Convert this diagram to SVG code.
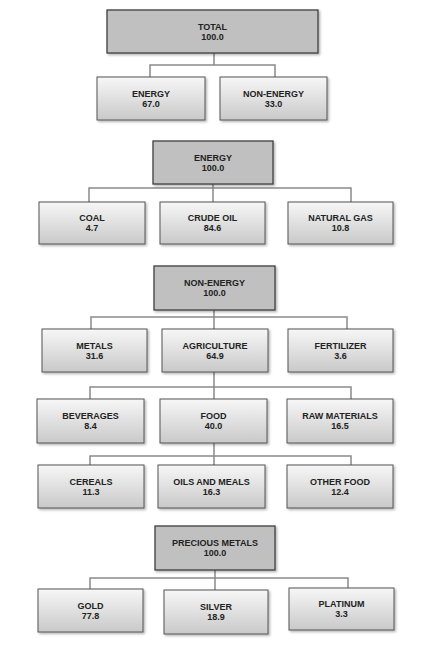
<svg xmlns="http://www.w3.org/2000/svg" width="427" height="646" viewBox="0 0 427 646">
<defs>
<linearGradient id="g" x1="0" y1="0" x2="0" y2="1">
<stop offset="0" stop-color="#f7f7f7"/>
<stop offset="1" stop-color="#c9c9c9"/>
</linearGradient>
<filter id="sh" x="-10%" y="-10%" width="130%" height="140%">
<feDropShadow dx="1.5" dy="1.5" stdDeviation="1" flood-color="#000" flood-opacity="0.3"/>
</filter>
</defs>
<style>
.p{fill:#c0c0c0;stroke:#3f3f3f;stroke-width:1.3;filter:url(#sh)}
.c{fill:url(#g);stroke:#555;stroke-width:1;filter:url(#sh)}
text{font-family:"Liberation Sans",Arial,sans-serif;font-size:9px;font-weight:bold;fill:#222;text-anchor:middle}
.ln{fill:none;stroke:#8a8a8a;stroke-width:1.5}
</style>
<rect width="427" height="646" fill="#fff"/>
<g id="connectors" class="ln">
<path d="M214 53V65M150 77V65H275V77"/>
<path d="M213 184V188M89 202V188H351V202M213 188V202"/>
<path d="M214 310V317M91 329V317H347V329M214 317V329"/>
<path d="M214 372V387M90 399V387H351V399M214 387V399"/>
<path d="M214 443V456M90 465V456H351V465M214 456V465"/>
<path d="M215 570V578M90 589V578H348V588M215 578V590"/>
</g>
<g id="total"><rect class="p" x="107" y="10" width="211" height="43"/><text x="212.5" y="29.5">TOTAL</text><text x="212.5" y="39.5">100.0</text></g>
<g id="energy"><rect class="c" x="97" y="77" width="108" height="43"/><text x="151" y="96.5">ENERGY</text><text x="151" y="106.5">67.0</text></g>
<g id="non-energy"><rect class="c" x="220" y="77" width="107" height="43"/><text x="273.5" y="96.5">NON-ENERGY</text><text x="273.5" y="106.5">33.0</text></g>

<g id="energy-parent"><rect class="p" x="153" y="141" width="120" height="43"/><text x="213" y="160.5">ENERGY</text><text x="213" y="170.5">100.0</text></g>
<g id="coal"><rect class="c" x="39" y="202" width="106" height="42"/><text x="92" y="221">COAL</text><text x="92" y="231">4.7</text></g>
<g id="crude-oil"><rect class="c" x="160" y="202" width="105" height="42"/><text x="212.5" y="221">CRUDE OIL</text><text x="212.5" y="231">84.6</text></g>
<g id="natural-gas"><rect class="c" x="288" y="202" width="105" height="42"/><text x="340.5" y="221">NATURAL GAS</text><text x="340.5" y="231">10.8</text></g>

<g id="non-energy-parent"><rect class="p" x="154" y="266" width="121" height="44"/><text x="214.5" y="286">NON-ENERGY</text><text x="214.5" y="296">100.0</text></g>
<g id="metals"><rect class="c" x="42" y="329" width="105" height="43"/><text x="94.5" y="348.5">METALS</text><text x="94.5" y="358.5">31.6</text></g>
<g id="agriculture"><rect class="c" x="162" y="329" width="106" height="43"/><text x="215" y="348.5">AGRICULTURE</text><text x="215" y="358.5">64.9</text></g>
<g id="fertilizer"><rect class="c" x="288" y="329" width="105" height="43"/><text x="340.5" y="348.5">FERTILIZER</text><text x="340.5" y="358.5">3.6</text></g>

<g id="beverages"><rect class="c" x="37" y="399" width="107" height="44"/><text x="90.5" y="419">BEVERAGES</text><text x="90.5" y="429">8.4</text></g>
<g id="food"><rect class="c" x="160" y="399" width="107" height="44"/><text x="213.5" y="419">FOOD</text><text x="213.5" y="429">40.0</text></g>
<g id="raw-materials"><rect class="c" x="287" y="399" width="106" height="44"/><text x="340" y="419">RAW MATERIALS</text><text x="340" y="429">16.5</text></g>

<g id="cereals"><rect class="c" x="38" y="465" width="106" height="43"/><text x="91" y="484.5">CEREALS</text><text x="91" y="494.5">11.3</text></g>
<g id="oils-and-meals"><rect class="c" x="158" y="465" width="107" height="43"/><text x="211.5" y="484.5">OILS AND MEALS</text><text x="211.5" y="494.5">16.3</text></g>
<g id="other-food"><rect class="c" x="287" y="465" width="106" height="43"/><text x="340" y="484.5">OTHER FOOD</text><text x="340" y="494.5">12.4</text></g>

<g id="precious-metals"><rect class="p" x="155" y="526" width="120" height="44"/><text x="215" y="546">PRECIOUS METALS</text><text x="215" y="556">100.0</text></g>
<g id="gold"><rect class="c" x="38" y="589" width="105" height="43"/><text x="90.5" y="608.5">GOLD</text><text x="90.5" y="618.5">77.8</text></g>
<g id="silver"><rect class="c" x="164" y="590" width="104" height="44"/><text x="216" y="610">SILVER</text><text x="216" y="620">18.9</text></g>
<g id="platinum"><rect class="c" x="289" y="588" width="105" height="42"/><text x="341.5" y="607">PLATINUM</text><text x="341.5" y="617">3.3</text></g>
</svg>
